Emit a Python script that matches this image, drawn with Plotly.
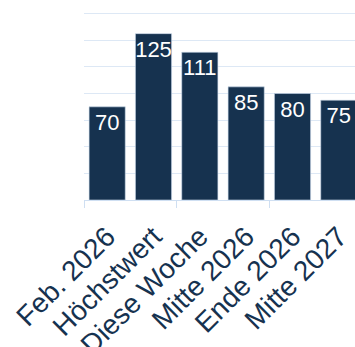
import plotly.graph_objects as go

categories = ["Feb. 2026", "Höchstwert", "Diese Woche", "Mitte 2026", "Ende 2026", "Mitte 2027"]
values = [70, 125, 111, 85, 80, 75]
positions = list(range(len(categories)))

navy = "#16324f"

fig = go.Figure(
    go.Bar(
        x=positions,
        y=values,
        text=[str(v) for v in values],
        textposition="inside",
        insidetextanchor="end",
        constraintext="none",
        textangle=0,
        textfont=dict(color="white", size=22, family="Liberation Sans, Arial, sans-serif"),
        marker=dict(color=navy, line=dict(color="#c9d8ea", width=0.6)),
        width=0.78,
    )
)

fig.update_layout(
    width=380,
    height=347,
    margin=dict(l=84, r=18, t=11, b=147),
    paper_bgcolor="white",
    plot_bgcolor="white",
    showlegend=False,
    font=dict(family="Liberation Sans, Arial, sans-serif", color=navy),
)

fig.update_xaxes(
    tickmode="array",
    tickvals=positions,
    ticktext=categories,
    tickangle=-45,
    tickfont=dict(size=28, color=navy),
    range=[-0.5, 5.5],
    automargin=False,
    showgrid=False,
    showline=True,
    linecolor="#cfdff2",
    linewidth=1,
    ticks="outside",
    ticklen=8,
    tickcolor="rgba(0,0,0,0)",
    minor=dict(tickvals=[-0.5, 1.5, 3.5, 5.5], ticks="outside", ticklen=7, tickcolor="#cfdff2", tickwidth=1, showgrid=False),
    zeroline=False,
)

fig.update_yaxes(
    range=[0, 142],
    dtick=20,
    automargin=False,
    showgrid=True,
    gridcolor="#dde8f5",
    gridwidth=1,
    showticklabels=False,
    zeroline=False,
    showline=False,
)

fig.write_html("out.html")
